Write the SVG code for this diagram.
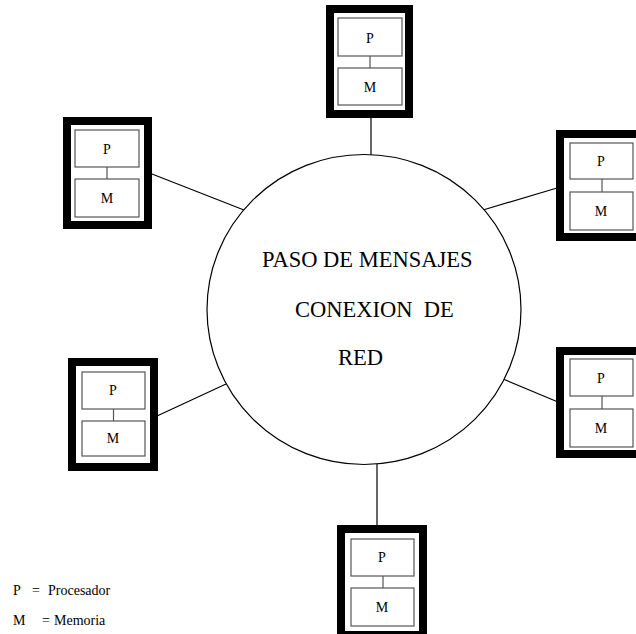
<svg xmlns="http://www.w3.org/2000/svg" width="636" height="634" viewBox="0 0 636 634">
  <style>
    .frame { fill: #ffffff; stroke: #000000; stroke-width: 8; }
    .unit { fill: #ffffff; stroke: #555555; stroke-width: 1.2; }
    .bus { stroke: #555555; stroke-width: 1.2; }
    .link { stroke: #000000; stroke-width: 1.2; fill: none; }
    .ring { fill: #ffffff; stroke: #000000; stroke-width: 1.2; }
    .lbl { font-family: "Liberation Serif", "Times New Roman", serif; font-size: 14px; fill: #000000; text-anchor: middle; }
    .big { font-family: "Liberation Serif", "Times New Roman", serif; font-size: 22.5px; fill: #000000; }
    .key { font-family: "Liberation Serif", "Times New Roman", serif; font-size: 14px; fill: #000000; }
  </style>
  <rect width="636" height="634" fill="#ffffff"/>

  <!-- links between each processing node and the network -->
  <g id="connectors">
    <line class="link" x1="371" y1="118" x2="371" y2="155"/>
    <line class="link" x1="152" y1="174" x2="244" y2="210"/>
    <line class="link" x1="483" y1="210" x2="557" y2="188"/>
    <line class="link" x1="157" y1="416" x2="226" y2="384"/>
    <line class="link" x1="503" y1="379" x2="558" y2="402"/>
    <line class="link" x1="377" y1="464" x2="377" y2="526"/>
  </g>

  <!-- message-passing network -->
  <g id="network">
    <ellipse class="ring" cx="364" cy="309.5" rx="157" ry="155"/>
    <text class="big" x="262" y="267">PASO DE MENSAJES</text>
    <text class="big" x="295" y="317" xml:space="preserve">CONEXION  DE</text>
    <text class="big" x="338" y="365">RED</text>
  </g>

  <!-- top node -->
  <g id="node-top">
    <rect class="frame" x="330" y="9" width="79" height="105"/>
    <line class="bus" x1="370" y1="56" x2="370" y2="68"/>
    <rect class="unit" x="338" y="18" width="64" height="38"/>
    <rect class="unit" x="338" y="68" width="64" height="37"/>
    <text class="lbl" x="370" y="43">P</text>
    <text class="lbl" x="370" y="92">M</text>
  </g>

  <!-- upper-left node -->
  <g id="node-upper-left">
    <rect class="frame" x="67" y="121" width="81" height="104"/>
    <line class="bus" x1="107" y1="167" x2="107" y2="179"/>
    <rect class="unit" x="75" y="130" width="64" height="37"/>
    <rect class="unit" x="75" y="179" width="64" height="38"/>
    <text class="lbl" x="107" y="154">P</text>
    <text class="lbl" x="107" y="203">M</text>
  </g>

  <!-- upper-right node -->
  <g id="node-upper-right">
    <rect class="frame" x="560" y="134" width="81" height="103"/>
    <line class="bus" x1="602" y1="179" x2="602" y2="192"/>
    <rect class="unit" x="570" y="143" width="63" height="36"/>
    <rect class="unit" x="570" y="192" width="63" height="38"/>
    <text class="lbl" x="601" y="166">P</text>
    <text class="lbl" x="601" y="216">M</text>
  </g>

  <!-- lower-left node -->
  <g id="node-lower-left">
    <rect class="frame" x="72" y="362" width="82" height="105"/>
    <line class="bus" x1="113.5" y1="409" x2="113.5" y2="421"/>
    <rect class="unit" x="82" y="372" width="63" height="37"/>
    <rect class="unit" x="82" y="421" width="63" height="35"/>
    <text class="lbl" x="113" y="395">P</text>
    <text class="lbl" x="113" y="443">M</text>
  </g>

  <!-- lower-right node -->
  <g id="node-lower-right">
    <rect class="frame" x="560" y="351" width="81" height="103"/>
    <line class="bus" x1="602" y1="396" x2="602" y2="409"/>
    <rect class="unit" x="570" y="359" width="63" height="37"/>
    <rect class="unit" x="570" y="409" width="63" height="38"/>
    <text class="lbl" x="601" y="383">P</text>
    <text class="lbl" x="601" y="433">M</text>
  </g>

  <!-- bottom node -->
  <g id="node-bottom">
    <rect class="frame" x="341" y="529" width="82" height="106"/>
    <line class="bus" x1="383" y1="576" x2="383" y2="588"/>
    <rect class="unit" x="351" y="539" width="63" height="37"/>
    <rect class="unit" x="351" y="588" width="63" height="38"/>
    <text class="lbl" x="382" y="562">P</text>
    <text class="lbl" x="382" y="612">M</text>
  </g>

  <!-- legend -->
  <g id="legend">
    <text class="key" x="13" y="595">P</text>
    <text class="key" x="32" y="595">=</text>
    <text class="key" x="48" y="595">Procesador</text>
    <text class="key" x="13" y="625">M</text>
    <text class="key" x="42" y="625">=</text>
    <text class="key" x="54" y="625">Memoria</text>
  </g>
</svg>
